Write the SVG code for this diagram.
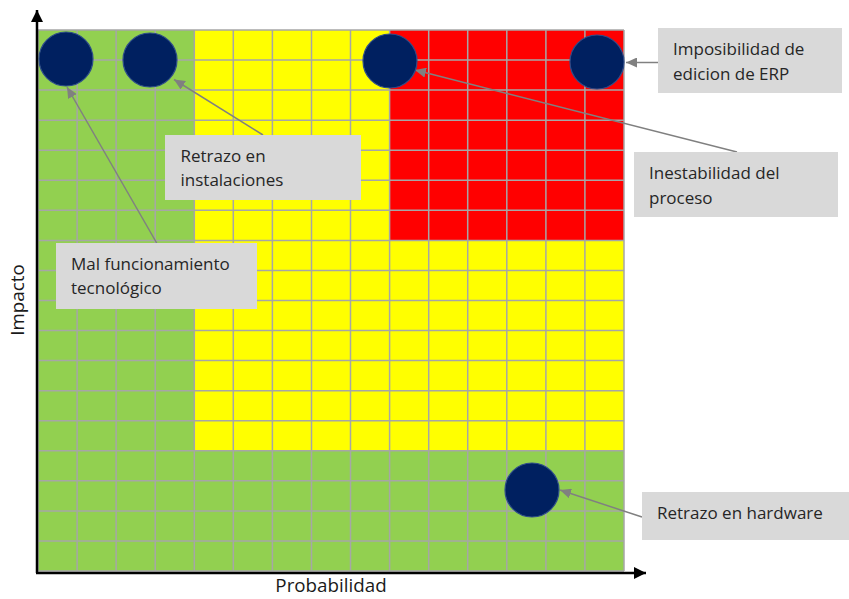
<svg xmlns="http://www.w3.org/2000/svg" width="849" height="599" viewBox="0 0 849 599">
  <style>
    .grid { fill: none; stroke: #A6A6A6; stroke-width: 1.5; }
    .axis { fill: none; stroke: #000000; stroke-width: 2.5; }
    .risk { fill: #002060; stroke: #2E4D8A; stroke-width: 1.2; }
    .box { fill: #D9D9D9; }
    .label { font-family: "Open Sans", "Liberation Sans", sans-serif; font-size: 17px; fill: #262626; }
    .axislabel { font-family: "Open Sans", "Liberation Sans", sans-serif; font-size: 18.8px; fill: #1A1A1A; }
    .link { fill: none; stroke: #808080; stroke-width: 1.5; marker-end: url(#arrow); }
  </style>
  <defs>
    <marker id="arrow" markerUnits="userSpaceOnUse" markerWidth="11" markerHeight="10" refX="11" refY="5" orient="auto">
      <path d="M0,0 L11,5 L0,10 z" fill="#808080"/>
    </marker>
    <marker id="axisHead" markerUnits="userSpaceOnUse" markerWidth="12" markerHeight="12" refX="12" refY="6" orient="auto">
      <path d="M0,0 L12,6 L0,12 z" fill="#000000"/>
    </marker>
  </defs>

  <rect width="849" height="599" fill="#FFFFFF"/>

  <!-- risk matrix zones -->
  <g id="matrix">
    <rect x="38" y="30" width="586" height="541" fill="#92D050"/>
    <rect x="194.3" y="30" width="429.7" height="420.8" fill="#FFFF00"/>
    <rect x="389.6" y="30" width="234.4" height="210.4" fill="#FF0000"/>
    <path class="grid" d="M38 30V571 M77.1 30V571 M116.1 30V571 M155.2 30V571 M194.3 30V571 M233.3 30V571 M272.4 30V571 M311.5 30V571 M350.5 30V571 M389.6 30V571 M428.7 30V571 M467.7 30V571 M506.8 30V571 M545.9 30V571 M584.9 30V571 M624 30V571
      M38 30H624 M38 60.1H624 M38 90.1H624 M38 120.2H624 M38 150.2H624 M38 180.3H624 M38 210.3H624 M38 240.4H624 M38 270.4H624 M38 300.5H624 M38 330.6H624 M38 360.6H624 M38 390.7H624 M38 420.7H624 M38 450.8H624 M38 480.8H624 M38 510.9H624 M38 540.9H624 M38 571H624"/>
  </g>

  <!-- axes -->
  <g id="axes">
    <path class="axis" d="M37 573 V10" marker-end="url(#axisHead)"/>
    <path class="axis" d="M36 573 H646" marker-end="url(#axisHead)"/>
    <text class="axislabel" x="331" y="592" text-anchor="middle">Probabilidad</text>
    <text class="axislabel" transform="translate(24 300) rotate(-90)" text-anchor="middle">Impacto</text>
  </g>

  <!-- connectors -->
  <g id="connectors">
    <path class="link" d="M156.7 243 L67 87"/>
    <path class="link" d="M263 135 L174 79.5"/>
    <path class="link" d="M737 152 L415 70"/>
    <path class="link" d="M658 62.5 L626 62.5"/>
    <path class="link" d="M642 517 L560 490"/>
  </g>

  <!-- risks -->
  <g id="risk-mal-funcionamiento"><circle class="risk" cx="66" cy="59" r="27"/></g>
  <g id="risk-retrazo-instalaciones"><circle class="risk" cx="150" cy="60" r="27"/></g>
  <g id="risk-inestabilidad"><circle class="risk" cx="390" cy="61" r="27"/></g>
  <g id="risk-imposibilidad"><circle class="risk" cx="597" cy="62" r="27"/></g>
  <g id="risk-retrazo-hardware"><circle class="risk" cx="532" cy="490" r="27"/></g>

  <!-- callouts -->
  <g id="label-mal-funcionamiento">
    <rect class="box" x="56" y="243" width="201" height="66"/>
    <text class="label" x="71" y="270">Mal funcionamiento</text>
    <text class="label" x="71" y="294">tecnológico</text>
  </g>
  <g id="label-retrazo-instalaciones">
    <rect class="box" x="165" y="135" width="196" height="65"/>
    <text class="label" x="180.5" y="162">Retrazo en</text>
    <text class="label" x="180.5" y="186">instalaciones</text>
  </g>
  <g id="label-inestabilidad">
    <rect class="box" x="634" y="152" width="204" height="65"/>
    <text class="label" x="649" y="179">Inestabilidad del</text>
    <text class="label" x="649" y="203.5">proceso</text>
  </g>
  <g id="label-imposibilidad">
    <rect class="box" x="658" y="28" width="184" height="65"/>
    <text class="label" x="673" y="54.5">Imposibilidad de</text>
    <text class="label" x="673" y="80">edicion de ERP</text>
  </g>
  <g id="label-retrazo-hardware">
    <rect class="box" x="642" y="492" width="207" height="48"/>
    <text class="label" x="657" y="519">Retrazo en hardware</text>
  </g>
</svg>
